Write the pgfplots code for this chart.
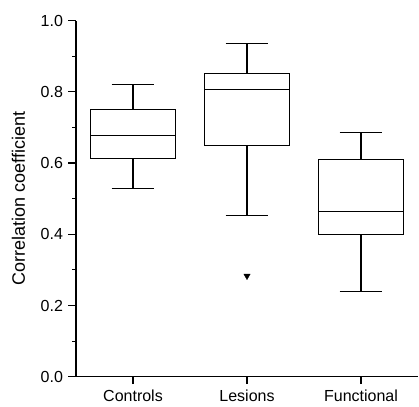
\documentclass[border=0pt]{standalone}
\usepackage{fontspec}
\setmainfont{Liberation Sans}
\usepackage{pgfplots}
\pgfplotsset{compat=1.18}
\usepgfplotslibrary{statistics}

\begin{document}
\fontsize{16}{19}\selectfont
\begin{tikzpicture}
\begin{axis}[
  scale only axis,
  width=342pt, height=356pt,
  xmin=0.5, xmax=3.5,
  ymin=0, ymax=1.0,
  axis x line*=bottom,
  axis y line*=left,
  xtick={1,2,3},
  xticklabels={Controls,Lesions,Functional},
  ytick={0,0.2,0.4,0.6,0.8,1.0},
  minor ytick={0.1,0.3,0.5,0.7,0.9},
  tick align=outside,
  major tick length=7.5pt,
  minor tick length=4pt,
  every tick/.style={black, line width=1.2pt},
  axis line style={black, line width=1.2pt},
  /pgf/number format/fixed,
  /pgf/number format/fixed zerofill,
  /pgf/number format/precision=1,
  /pgf/number format/assume math mode=true,
  tick label style={font=\fontsize{16}{19}\selectfont},
  ylabel={Correlation coefficient},
  ylabel style={at={(axis description cs:-0.168,0.5)}, anchor=center, font=\fontsize{18}{21}\selectfont},
  boxplot/draw direction=y,
  boxplot/box extend=0.75,
  boxplot/whisker extend=0.375,
  clip=false,
]
% Controls
\addplot[black, line width=1.2pt, solid,
  boxplot prepared={median=0.678, upper quartile=0.750, lower quartile=0.612,
    upper whisker=0.820, lower whisker=0.529, draw position=1}]
  coordinates {};
% Lesions, one outlier
\addplot[black, line width=1.2pt, solid, mark=triangle*, mark size=3.6pt,
  mark options={rotate=180, solid, fill=black, line width=0.4pt},
  boxplot prepared={median=0.807, upper quartile=0.851, lower quartile=0.649,
    upper whisker=0.937, lower whisker=0.452, draw position=2}]
  table[row sep=\\, y index=0] {v\\ 0.283\\};
% Functional
\addplot[black, line width=1.2pt, solid,
  boxplot prepared={median=0.465, upper quartile=0.611, lower quartile=0.399,
    upper whisker=0.687, lower whisker=0.239, draw position=3}]
  coordinates {};
\coordinate (o) at (rel axis cs:0,0);
\coordinate (t) at (rel axis cs:1,1);
\end{axis}
\pgfresetboundingbox
\path[use as bounding box] ([xshift=-76pt,yshift=-29.3pt]o) rectangle ([xshift=1pt,yshift=20.7pt]t);
\end{tikzpicture}
\end{document}
